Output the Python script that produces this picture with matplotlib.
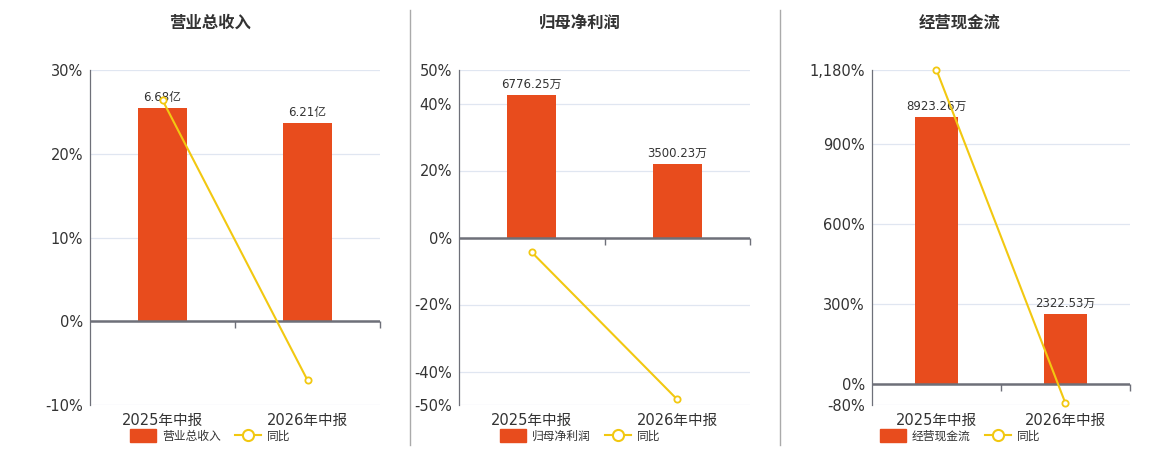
import numpy as np
import matplotlib
matplotlib.use('Agg')
import matplotlib.pyplot as plt
from matplotlib.lines import Line2D
from matplotlib.patches import Patch

plt.rcParams['font.family'] = ['DejaVu Sans', 'Noto Sans CJK SC']

# data
periods = ['2025年中报', '2026年中报']
titles = ['营业总收入', '归母净利润', '经营现金流']

revenue = [6.68, 6.21]            # 亿
revenue_labels = ['6.68亿', '6.21亿']
revenue_yoy = [26.4, -7.04]

profit = [6776.25, 3500.23]       # 万
profit_labels = ['6776.25万', '3500.23万']
profit_yoy = [-4.4, -48.35]

cashflow = [8923.26, 2322.53]     # 万
cashflow_labels = ['8923.26万', '2322.53万']
cashflow_yoy = [1180, -73.97]

# axis setup per panel: percent ticks, bar-axis top
pct_ticks = [[-10, 0, 10, 20, 30],
             [-50, -40, -20, 0, 20, 40, 50],
             [-80, 0, 300, 600, 900, 1180]]
bar_top = [7.86, 7967, 10510]

BAR = '#e84c1d'
LINE = '#f2c811'
AXC = '#6e7079'
GRID = '#e0e6f1'
TXT = '#333333'

W, H = 1160, 450
fig = plt.figure(figsize=(W / 100, H / 100), dpi=100)

panels = [(revenue, revenue_labels, revenue_yoy),
          (profit, profit_labels, profit_yoy),
          (cashflow, cashflow_labels, cashflow_yoy)]
ax_left = [90, 459, 872]
ax_right = [380, 750, 1130]
centers = [210, 580, 960]
ax_top, ax_bot = 70, 405

for i, (vals, labs, yoy) in enumerate(panels):
    l, r = ax_left[i], ax_right[i]
    ax = fig.add_axes([l / W, 1 - ax_bot / H, (r - l) / W, (ax_bot - ax_top) / H])
    ticks = pct_ticks[i]
    lo, hi = ticks[0], ticks[-1]
    x = np.arange(len(periods))

    # percent axis (grid, ticks)
    ax.set_ylim(lo, hi)
    ax.set_xlim(-0.5, 1.5)
    ax.set_yticks(ticks)
    ax.set_yticklabels([f'{t:,.0f}%' for t in ticks], fontsize=10.5, color=TXT)
    ax.tick_params(axis='y', length=0, pad=5)
    ax.set_xticks(x)
    ax.set_xticklabels(periods, fontsize=10.5, color=TXT)
    ax.tick_params(axis='x', length=0, pad=6)
    for t in ticks:
        ax.axhline(t, color=GRID, lw=0.9, zorder=0)
    for s in ['top', 'right', 'bottom']:
        ax.spines[s].set_visible(False)
    ax.spines['left'].set_color(AXC)
    ax.spines['left'].set_linewidth(0.9)

    # zero axis ticks at category boundaries
    zfrac = (0 - lo) / (hi - lo)
    sec = ax.secondary_xaxis(zfrac)
    sec.set_xticks([0.5, 1.5])
    sec.set_xticklabels(['', ''])
    sec.xaxis.set_ticks_position('bottom')
    sec.tick_params(length=5, color=AXC, width=1, direction='out')
    for s in sec.spines.values():
        s.set_visible(False)

    # bars on their own hidden scale
    bx = ax.twinx()
    top = bar_top[i]
    bx.set_ylim(top * lo / hi, top)
    bars = bx.bar(x, vals, width=0.34, color=BAR, zorder=2)
    bx.bar_label(bars, labels=labs, padding=3, fontsize=8.5, color=TXT)
    bx.axis('off')

    # yoy line on top
    cx = ax.twinx()
    cx.set_ylim(lo, hi)
    cx.axhline(0, color=AXC, lw=1.8)
    cx.plot(x, yoy, color=LINE, lw=1.5, marker='o', markersize=4.5,
            markerfacecolor='white', markeredgecolor=LINE, markeredgewidth=1.3,
            clip_on=False)
    cx.axis('off')

    fig.text(centers[i] / W, 1 - 23 / H, titles[i], ha='center', va='center',
             fontsize=11.8, fontweight='bold', color=TXT)

    handles = [Patch(facecolor=BAR, edgecolor=BAR),
               Line2D([], [], color=LINE, lw=1.5, marker='o', markersize=8,
                      markerfacecolor='white', markeredgecolor=LINE,
                      markeredgewidth=1.5)]
    fig.legend(handles, [titles[i], '同比'], loc='center',
               bbox_to_anchor=(centers[i] / W, 1 - 436 / H), ncol=2,
               frameon=False, fontsize=8.5, handlelength=2.2, handleheight=1.2,
               handletextpad=0.5, columnspacing=1.2, labelcolor=TXT)

# panel dividers
for xd in [410, 780]:
    fig.add_artist(Line2D([xd / W, xd / W], [1 - 445 / H, 1 - 10 / H],
                          transform=fig.transFigure, color='#aaaaaa', lw=1))

fig.savefig('out.png', dpi=100, facecolor='white')
